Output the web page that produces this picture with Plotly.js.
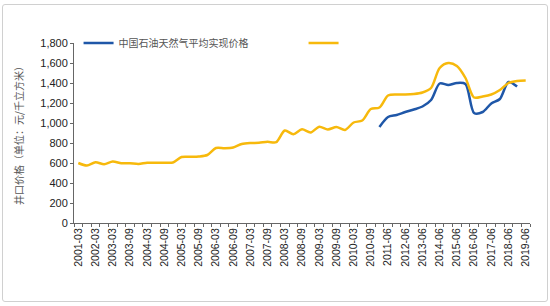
<!DOCTYPE html>
<html><head><meta charset="utf-8">
<script src="https://cdn.plot.ly/plotly-3.0.1.min.js"></script>
<style>html,body{margin:0;padding:0;background:#fff;}#frame{position:absolute;left:2px;top:4px;width:544px;height:296px;border:1px solid #d0d0d0;border-radius:3px;}#chart{position:absolute;left:0;top:0;width:550px;height:306px;}</style>
</head><body>
<div id="frame"></div>
<div id="chart"></div>
<script>
const labels = ["2001-03","2002-03","2003-03","2003-09","2004-03","2004-09","2005-03","2005-09","2006-03","2006-09","2007-03","2007-09","2008-03","2008-09","2009-03","2009-09","2010-03","2010-09","2011-06","2012-06","2013-06","2014-06","2015-06","2016-06","2017-06","2018-06","2019-06"];
const wellhead = [600,575,608,588,615,598,597,590,603,603,603,605,660,662,665,680,750,748,755,790,800,802,812,808,925,888,937,905,963,935,960,930,1005,1025,1140,1155,1275,1285,1285,1290,1305,1350,1550,1600,1570,1450,1255,1265,1285,1330,1400,1420,1425];
const petrochina = [null,null,null,null,null,null,null,null,null,null,null,null,null,null,null,null,null,null,null,null,null,null,null,null,null,null,null,null,null,null,null,null,null,null,null,960,1060,1080,1110,1135,1165,1230,1395,1380,1400,1390,1100,1110,1195,1240,1410,1365,null];
const idx = wellhead.map((_, i) => i);
const tickIdx = labels.map((_, i) => i * 2);

const traces = [
  {x: idx, y: petrochina, type: 'scatter', mode: 'lines', name: '中国石油天然气平均实现价格',
   line: {color: '#1F57A8', width: 2.5, shape: 'spline', smoothing: 0.8}, connectgaps: false},
  {x: idx, y: wellhead, type: 'scatter', mode: 'lines', name: ' ',
   line: {color: '#F7B90C', width: 2.5, shape: 'spline', smoothing: 0.8}}
];
const layout = {
  width: 550, height: 306,
  paper_bgcolor: 'rgba(0,0,0,0)', plot_bgcolor: 'rgba(0,0,0,0)',
  margin: {l: 74, r: 20, t: 43, b: 83},
  showlegend: true,
  legend: {orientation: 'h', x: 0.01, y: 1.0, xanchor: 'left', yanchor: 'middle',
    font: {family: 'Noto Sans CJK SC', size: 10, color: '#555'}, bgcolor: 'rgba(0,0,0,0)',
    entrywidth: 180, entrywidthmode: 'pixels', itemwidth: 30},
  xaxis: {range: [-0.5, 52.5], tickmode: 'array', tickvals: tickIdx, ticktext: labels,
    tickangle: -90, ticks: '', showgrid: false, zeroline: false,
    showline: true, linecolor: '#666', linewidth: 1,
    tickfont: {family: 'Liberation Sans', size: 10.5, color: '#222'},
    minor: {tick0: -0.5, dtick: 1, ticks: 'outside', ticklen: 3, tickcolor: '#666', showgrid: false}},
  yaxis: {range: [0, 1800], dtick: 200, tickformat: ',d', showgrid: false, zeroline: false,
    showline: true, linecolor: '#666', linewidth: 1, ticks: 'outside', ticklen: 3, tickcolor: '#666',
    tickfont: {family: 'Liberation Sans', size: 11, color: '#222'},
    title: {text: '井口价格（单位：元/千立方米）', font: {family: 'Noto Sans CJK SC', size: 10, color: '#555'}, standoff: 14}},
};
Plotly.newPlot('chart', traces, layout, {displayModeBar: false, staticPlot: true});
</script>
</body></html>
